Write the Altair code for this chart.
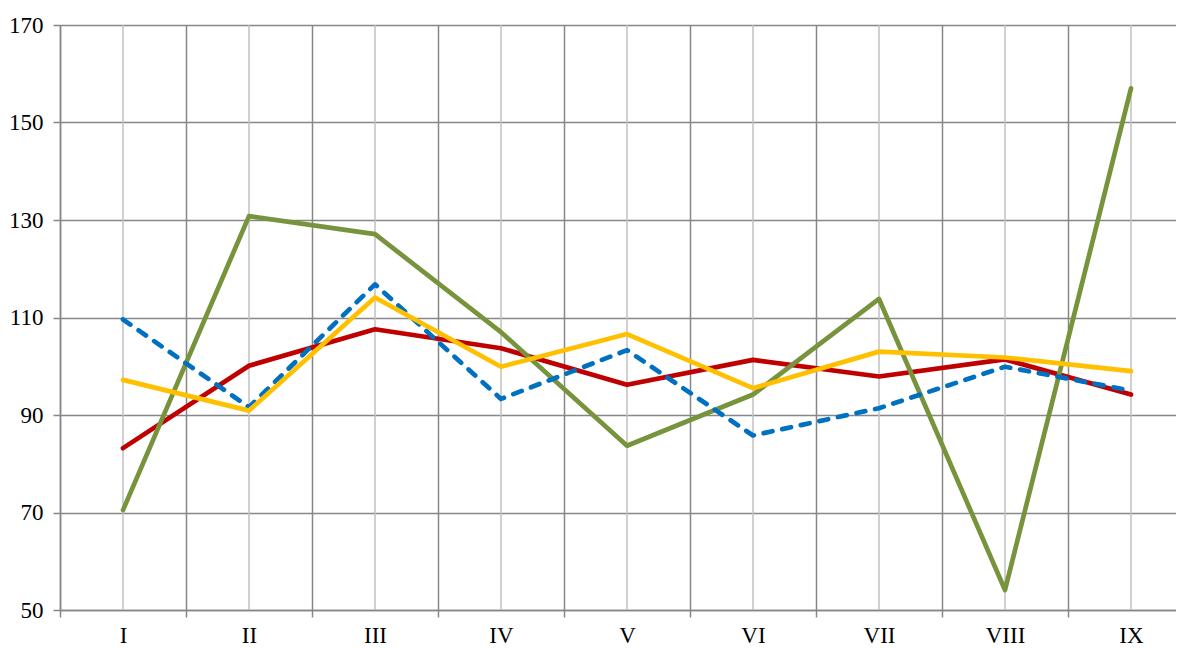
import altair as alt
import pandas as pd

categories = ["I", "II", "III", "IV", "V", "VI", "VII", "VIII", "IX"]
series_red = [83.2, 100.1, 107.6, 103.7, 96.2, 101.3, 97.9, 101.4, 94.2]
series_green = [70.5, 130.8, 127.1, 107.0, 83.7, 94.2, 113.8, 54.1, 157.0]
series_blue = [109.6, 91.6, 116.8, 93.3, 103.3, 85.8, 91.4, 99.9, 95.0]
series_yellow = [97.2, 90.9, 114.1, 99.9, 106.6, 95.5, 103.0, 101.8, 99.0]

series_names = ["Red", "Green", "Blue", "Yellow"]
series_colors = ["#C00000", "#77933C", "#0070C0", "#FFC000"]
series_values = [series_red, series_green, series_blue, series_yellow]

rows = []
for order, (name, vals) in enumerate(zip(series_names, series_values)):
    for c, v in zip(categories, vals):
        rows.append({"cat": c, "value": v, "series": name, "order": order})
df = pd.DataFrame(rows)
cat_df = pd.DataFrame({"cat": categories})

FONT = "Liberation Serif"
x_scale = alt.Scale(domain=categories, paddingInner=0, paddingOuter=0)
y_scale = alt.Scale(domain=[50, 170], nice=False, zero=False)

# light center gridlines
center_rules = alt.Chart(cat_df).mark_rule(color="#C0C0C0", strokeWidth=1.5).encode(
    x=alt.X("cat:N", scale=x_scale, sort=categories, axis=alt.Axis(
        title=None, orient="bottom", tickBand="extent", grid=True,
        gridColor="#878787", gridWidth=1.5, domainColor="#878787", domainWidth=1.5,
        tickColor="#878787", tickWidth=1.5, tickSize=7,
        labelAngle=0, labelFont=FONT, labelFontSize=23, labelColor="#000000",
        labelPadding=7)),
)

base = alt.Chart(df)


def line_layer(name, color, dashed=False):
    kw = dict(color=color, strokeWidth=4.7, strokeCap="round", strokeJoin="round")
    if dashed:
        kw["strokeDash"] = [9, 10]
    return base.transform_filter(alt.datum.series == name).mark_line(**kw).encode(
        x=alt.X("cat:N", scale=x_scale, sort=categories),
        y=alt.Y("value:Q", scale=y_scale, axis=alt.Axis(
            title=None, values=[50, 70, 90, 110, 130, 150, 170], grid=True,
            gridColor="#878787", gridWidth=1.5, domainColor="#878787", domainWidth=1.5,
            tickColor="#878787", tickWidth=1.5, tickSize=7,
            labelFont=FONT, labelFontSize=23, labelColor="#000000", labelPadding=10)),
    )


layers = [center_rules]
for name, color in zip(series_names, series_colors):
    layers.append(line_layer(name, color, dashed=(name == "Blue")))

# the plot runs past the right edge of the picture, as in the reference
chart = alt.layer(*layers).properties(
    width=1134, height=585,
    autosize=alt.AutoSizeParams(type="none"),
    padding={"left": 52, "top": 17, "right": -18, "bottom": 38},
).configure_view(stroke=None).configure(background="#FFFFFF")

chart.save("out.html", embed_options={"renderer": "svg", "actions": False})
